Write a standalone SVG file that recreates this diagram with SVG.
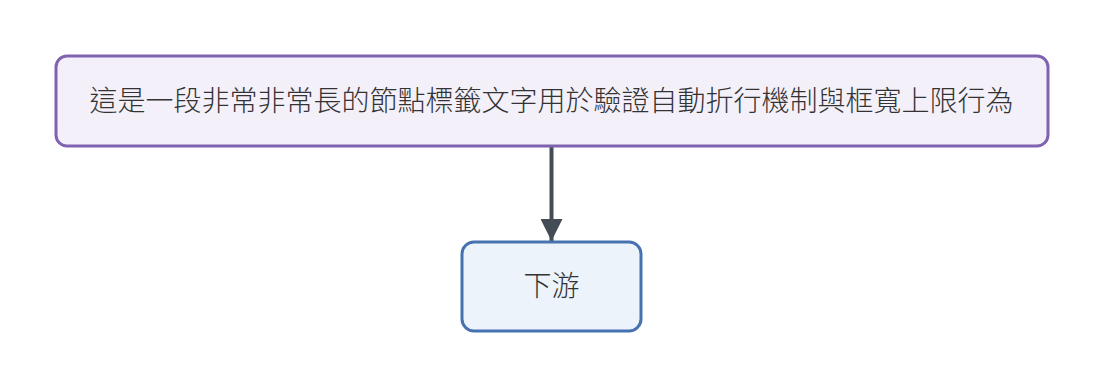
<svg xmlns="http://www.w3.org/2000/svg" width="1104" height="388" viewBox="0 0 1104 388">
<style>
.lbl{font-family:"Noto Sans CJK TC","Noto Sans CJK SC",sans-serif;font-size:28px;font-weight:300;fill:#333333;text-anchor:middle;dominant-baseline:central}
.edge{stroke:#444c55;stroke-width:4;fill:none}
</style>
<defs>
<marker id="ah" markerUnits="userSpaceOnUse" markerWidth="24" markerHeight="22" refX="22" refY="11" orient="auto">
<path d="M0,0 L22,11 L0,22 Z" fill="#444c55"/>
</marker>
</defs>
<rect width="1104" height="388" fill="#ffffff"/>
<g id="connectors">
<line class="edge" x1="551.5" y1="147" x2="551.5" y2="241" marker-end="url(#ah)"/>
</g>
<g id="node-top">
<rect x="56" y="56" width="992" height="90" rx="11" fill="#f3f0fa" stroke="#7f63b0" stroke-width="3"/>
<text class="lbl" x="551.5" y="99">這是一段非常非常長的節點標籤文字用於驗證自動折行機制與框寬上限行為</text>
</g>
<g id="node-bottom">
<rect x="462" y="242" width="179" height="89" rx="12" fill="#edf3fb" stroke="#4672b0" stroke-width="3"/>
<text class="lbl" x="551.5" y="284">下游</text>
</g>
</svg>
